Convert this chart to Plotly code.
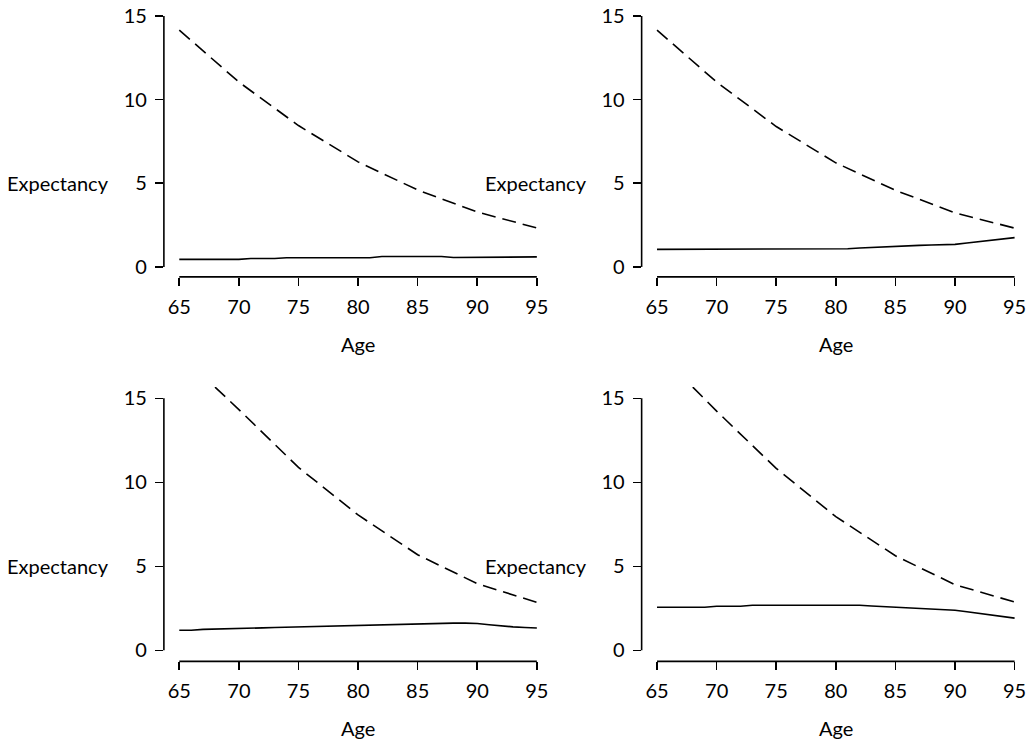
import plotly.graph_objects as go

W, H = 1036, 744

# ---------------- data ----------------
ages_5 = [65, 70, 75, 80, 85, 90, 95]
ages_5b = [68, 70, 75, 80, 85, 90, 95]
ages_1 = list(range(65, 96))

tl_dash = [14.15, 11.05, 8.45, 6.28, 4.6, 3.28, 2.33]
tl_solid = [0.45]*6 + [0.50]*3 + [0.55]*8 + [0.62]*3 + [0.66] + [0.62]*2 + [0.56]*5 + [0.60]*3

tr_dash = [14.15, 11.05, 8.39, 6.22, 4.58, 3.23, 2.32]
tr_solid = [1.05]*16 + [1.09, 1.13, 1.17, 1.21, 1.25, 1.27, 1.29, 1.31, 1.33, 1.35,
                        1.43, 1.51, 1.59, 1.67, 1.75]

bl_dash = [15.67, 14.33, 10.89, 8.06, 5.69, 3.97, 2.86]
bl_solid = [1.20, 1.20, 1.25, 1.26, 1.27, 1.30, 1.33, 1.34, 1.36, 1.38, 1.40, 1.42, 1.43,
            1.45, 1.47, 1.48, 1.50, 1.53, 1.55, 1.57, 1.60, 1.61, 1.62, 1.62, 1.62, 1.60,
            1.53, 1.45, 1.40, 1.36, 1.33]

br_dash = [15.67, 14.24, 10.83, 7.96, 5.63, 3.91, 2.88]
br_solid = [2.57]*5 + [2.63]*3 + [2.69]*10 + [2.64, 2.60, 2.57, 2.53, 2.50, 2.46, 2.43,
                                              2.39, 2.30, 2.20, 2.10, 2.01, 1.92]

x_ticks = [65, 70, 75, 80, 85, 90, 95]
y_ticks = [0, 5, 10, 15]
x_title = "Age"
y_title = "Expectancy"

FONT = "Lato"
FS = 20


def fx(px):
    return px / W


def fy(py):
    return 1 - py / H


panels = [
    # (dash x, dash y, solid y, x-px left, x-px right, y-px of zero, y-px of axis line, px per unit, top px)
    (ages_5, tl_dash, tl_solid, 165, 545, 266, 276, 16.8, 2.7),
    (ages_5, tr_dash, tr_solid, 646, 1026, 266, 276, 16.8, 2.7),
    (ages_5b, bl_dash, bl_solid, 165, 545, 651, 662, 16.87, 386.6),
    (ages_5b, br_dash, br_solid, 646, 1026, 651, 662, 16.87, 386.6),
]

fig = go.Figure()
layout = dict(width=W, height=H, margin=dict(l=0, r=0, t=0, b=0),
              paper_bgcolor="white", plot_bgcolor="white", showlegend=False,
              hovermode=False,
              font=dict(family=FONT, size=FS, color="black"))
shapes, annotations = [], []

for i, (dx, dy, sy, xl, xr, y0px, yaxpx, ppu, toppx) in enumerate(panels):
    n = i + 1
    xa = f"x{n}" if n > 1 else "x"
    ya = f"y{n}" if n > 1 else "y"
    xkey = f"xaxis{n}" if n > 1 else "xaxis"
    ykey = f"yaxis{n}" if n > 1 else "yaxis"

    fig.add_trace(go.Scatter(x=dx, y=dy, mode="lines", xaxis=xa, yaxis=ya,
                             line=dict(color="black", width=1.6, dash="14px,7px")))
    fig.add_trace(go.Scatter(x=ages_1, y=sy, mode="lines", xaxis=xa, yaxis=ya,
                             line=dict(color="black", width=1.6)))

    pxpy = 12.0  # px per year
    x_lo = 65 - 15.5 / pxpy
    x_hi = x_lo + (xr - xl) / pxpy
    y_lo = -(yaxpx - y0px) / ppu
    y_hi = (y0px - toppx) / ppu

    layout[xkey] = dict(domain=[fx(xl), fx(xr)], range=[x_lo, x_hi], anchor=ya,
                        showgrid=False, zeroline=False, showline=False,
                        tickmode="array", tickvals=x_ticks, ticks="outside",
                        ticklen=8, tickwidth=1.6, tickcolor="black",
                        ticklabelstandoff=4, ticklabeloverflow="allow",
                        tickfont=dict(family=FONT, size=FS, color="black"))
    layout[ykey] = dict(domain=[fy(yaxpx), fy(toppx)], range=[y_lo, y_hi], anchor=xa,
                        showgrid=False, zeroline=False, showline=False,
                        tickmode="array", tickvals=y_ticks, ticks="outside",
                        ticklen=8, tickwidth=1.6, tickcolor="black",
                        ticklabelstandoff=4, ticklabeloverflow="allow",
                        tickfont=dict(family=FONT, size=FS, color="black"))

    # axis lines
    shapes.append(dict(type="line", xref=xa, yref=f"{ya} domain", x0=65, x1=95, y0=0, y1=0,
                       line=dict(color="black", width=1.6)))
    shapes.append(dict(type="line", xref=f"{xa} domain", yref=ya, x0=0, x1=0, y0=0, y1=15,
                       line=dict(color="black", width=1.6)))

    annotations.append(dict(text=y_title, xref=f"{xa} domain", yref=ya, x=0, y=5,
                            xanchor="right", yanchor="middle", xshift=-53, showarrow=False,
                            font=dict(family=FONT, size=FS, color="black")))
    annotations.append(dict(text=x_title, xref=xa, yref="paper", x=80,
                            y=fy(yaxpx + 67),
                            xanchor="center", yanchor="middle", showarrow=False,
                            font=dict(family=FONT, size=FS, color="black")))

layout["shapes"] = shapes
layout["annotations"] = annotations
fig.update_layout(**layout)
fig.write_html("out.html",
               config={"displayModeBar": False, "staticPlot": True},
               post_script="document.body.style.margin='0';"
                           "document.body.style.overflow='hidden';")
